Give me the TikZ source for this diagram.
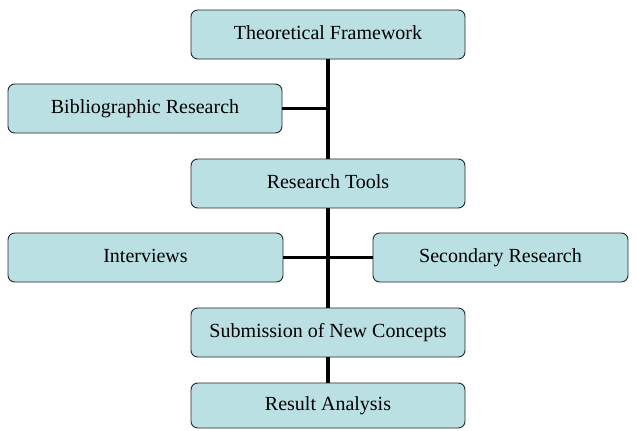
\documentclass[tikz,border=0pt]{standalone}
\usepackage{fontspec}
\setmainfont{Liberation Serif}
\definecolor{boxfill}{RGB}{186,224,227}
\begin{document}
\begin{tikzpicture}[x=0.75pt,y=-0.75pt,
    box/.style={draw=black!85, line width=0.7pt, fill=boxfill, rounded corners=5pt,
        minimum width=205.5pt, minimum height=36.75pt, inner sep=2pt,
        text height=10.5pt, text depth=3pt,
        font=\fontsize{15}{18}\selectfont},
    link/.style={line width=2.4pt}]
    \useasboundingbox (0,0) rectangle (637,430);
    \node [box] (theory) at (328,34.5) {Theoretical Framework};
    \node [box] (biblio) at (145,108.5) {Bibliographic Research};
    \node [box] (tools) at (328,183.5) {Research Tools};
    \node [box, minimum width=206.25pt] (interviews) at (145.5,257.5) {Interviews};
    \node [box, minimum width=191.25pt] (secondary) at (500.5,257.5) {Secondary Research};
    \node [box] (submission) at (328,332.5) {Submission of New Concepts};
    \node [box, minimum height=33.75pt] (analysis) at (328,405.5) {Result Analysis};
    \coordinate (bibjoin) at (biblio.east -| theory.south);
    \draw [link] (theory.south) -- (tools.north);
    \draw [link] (tools.south) -- (submission.north);
    \draw [link] (biblio.east) -- (bibjoin);
    \draw [link] (interviews.east) -- (secondary.west);
    \draw [link] (submission.south) -- (analysis.north);
\end{tikzpicture}
\end{document}
